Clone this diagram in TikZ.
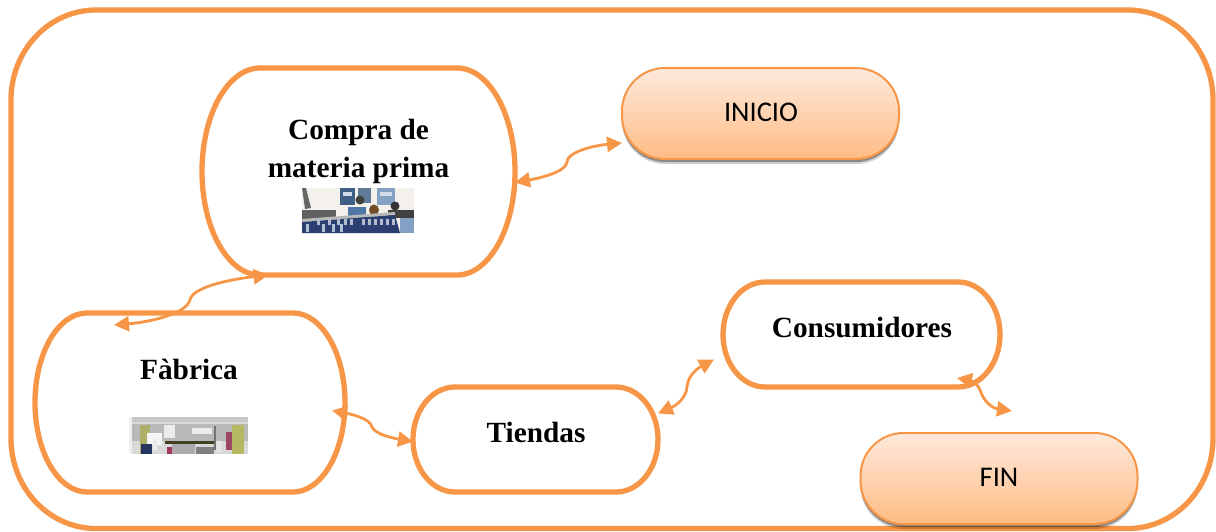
\documentclass[tikz,border=0pt]{standalone}
\usepackage{fontspec}
\setmainfont{Liberation Serif}
\newfontfamily\calibrifont{Carlito}
\usetikzlibrary{arrows.meta,shadows,calc}
\definecolor{acc}{HTML}{F79646}
\definecolor{ftop}{HTML}{FEE9DC}
\definecolor{fbot}{HTML}{FFBC84}
\definecolor{navy}{HTML}{2B3F70}
\definecolor{steel}{HTML}{4F78A8}
\definecolor{oliv}{HTML}{B4B860}
\definecolor{wall}{HTML}{F4F1EC}
\tikzset{
  x=1pt,y=-1pt,
  anchorbox/.style={rectangle,inner sep=0pt,outer sep=0pt},
  boxline/.style={draw=acc,line width=5.3pt,fill=white},
  pill/.style={draw=acc,line width=2pt,rectangle,inner sep=0pt,outer sep=0pt,top color=ftop,bottom color=fbot,
    minimum width=277pt,minimum height=91pt,rounded corners=43pt,
    drop shadow={shadow xshift=0pt,shadow yshift=-5pt,opacity=.18,fill=black},
    drop shadow={shadow xshift=0pt,shadow yshift=-3pt,opacity=.35,fill=black}},
  lab/.style={inner sep=0pt,align=center,font=\bfseries\fontsize{29.3}{38}\selectfont},
  pilllab/.style={inner sep=0pt,font=\calibrifont\fontsize{28.5}{32}\selectfont},
  link/.style={draw=acc,line width=2.8pt,{Triangle[length=15pt,width=15pt]}-{Triangle[length=15pt,width=15pt]}},
}
% rounded box with elliptical corners round a named node: name, x radius, y radius
\newcommand{\elbox}[3]{%
  \path[boxline] ($(#1.north west)+(#2,0)$) -- ($(#1.north east)+(-#2,0)$)
    arc[start angle=90,end angle=0,x radius=#2pt,y radius=#3pt]
    -- ($(#1.south east)+(0,-#3)$)
    arc[start angle=0,end angle=-90,x radius=#2pt,y radius=#3pt]
    -- ($(#1.south west)+(#2,0)$)
    arc[start angle=-90,end angle=-180,x radius=#2pt,y radius=#3pt]
    -- ($(#1.north west)+(0,#3)$)
    arc[start angle=180,end angle=90,x radius=#2pt,y radius=#3pt]
    -- cycle;}
\begin{document}
\begin{tikzpicture}
\useasboundingbox (0,0) rectangle (1216,531);
\fill[white] (0,0) rectangle (1216,531);
% node frames
\node[anchorbox,minimum width=1202pt,minimum height=518.5pt] (outer) at (612,269.25) {};
\node[anchorbox,minimum width=313pt,minimum height=207pt] (compra) at (358.5,171.5) {};
\node[anchorbox,minimum width=310pt,minimum height=179pt] (fabrica) at (190,402.5) {};
\node[anchorbox,minimum width=245pt,minimum height=105pt] (tiendas) at (535.5,439.5) {};
\node[anchorbox,minimum width=277pt,minimum height=105pt] (consum) at (861.5,334.5) {};
\elbox{outer}{85}{90}
\elbox{compra}{58}{103.5}
\elbox{fabrica}{52}{89.5}
\elbox{tiendas}{42}{52.5}
\elbox{consum}{42}{52.5}
\node[pill] (inicio) at (760.5,113.5) {};
\node[pill] (fin) at (999,478.5) {};
% labels
\node[lab] (tcompra) at (358.5,151) {Compra de\\materia prima};
\node[lab] (tfabrica) at (189,369) {Fàbrica};
\node[lab] (ttiendas) at (536,432) {Tiendas};
\node[lab] (tconsum) at (862,328) {Consumidores};
\node[pilllab] (tinicio) at (761,112) {INICIO};
\node[pilllab] (tfin) at (999,477) {FIN};
% photo in Compra
\begin{scope}
\clip (302,188) rectangle (414,233);
\fill[wall] (302,188) rectangle (414,233);
\fill[black!60] (302,188) -- (306,188) -- (311,208) -- (305,209) -- cycle;
\fill[steel!80!black] (340,188) rectangle (355,205);
\fill[steel!65!gray] (358,188) rectangle (371,203);
\fill[steel!70!white] (377,188) rectangle (395,205);
\fill[white!75!steel] (343,192) rectangle (352,196);
\fill[white!75!steel] (380,192) rectangle (392,196);
\fill[gray!75!black] (302,210) rectangle (336,219);
\fill[steel] (348,207) rectangle (366,219);
\fill[black!75] (360,200) circle (4.5pt);
\fill[brown!60!black] (374,210) ellipse (5pt and 5.5pt);
\fill[black!80] (395,206) circle (4.5pt);
\fill[black!75] (388,210) rectangle (414,218);
\fill[steel!70!white] (400,218) rectangle (414,233);
\fill[gray!55] (302,219) -- (395,212) -- (395,215) -- (302,222) -- cycle;
\fill[navy] (302,222) -- (395,215) -- (400,233) -- (302,233) -- cycle;
\foreach \q in {317,328,337,344,350,362,368,374,380,386,392}
  \fill[white!65!navy] (\q,219) rectangle ++(2.5,5.5);
\foreach \q in {306,322,332,340}
  \fill[white!55!steel] (\q,224) rectangle ++(3,8);
\end{scope}
% photo in Fabrica
\begin{scope}
\clip (129,417) rectangle (248,454);
\fill[gray!30] (129,417) rectangle (248,454);
\fill[gray!45] (129,417) rectangle (248,422);
\fill[gray!55] (132,424) rectangle (248,441);
\fill[oliv!85!gray] (140,425) rectangle (150,454);
\fill[oliv] (232,425) rectangle (244,454);
\fill[white!92!gray] (147,433) rectangle (162,445);
\fill[gray!12] (129,417) rectangle (132,454);
\fill[white!85!gray] (164,425) rectangle (175,438);
\fill[white!85!gray] (192,428) rectangle (212,434);
\fill[black!65!oliv] (165,441) rectangle (215,444);
\fill[gray!65!white] (172,444) rectangle (195,454);
\fill[navy!85!black] (141,444) rectangle (152,454);
\fill[white!85!gray] (153,438) rectangle (157,450);
\fill[purple!55!gray] (167,447) rectangle (172,454);
\fill[purple!45!gray] (226,432) rectangle (232,450);
\fill[white!80!gray] (216,441) rectangle (222,452);
\fill[black!55] (214,426) rectangle (216,450);
\fill[black!50] (196,447) rectangle (214,454);
\end{scope}
% connectors
\draw[link] (compra.-4) .. controls (540,178) and (566,172) .. (567,162)
  .. controls (567,153) and (590,146) .. (inicio.192);
\coordinate (fabin) at ($(fabrica.north west)+(79,12)$);
\draw[link] (compra.229) .. controls (225,280) and (192,288) .. (190,300)
  .. controls (186,314) and (150,322) .. (fabin);
\coordinate (fabout) at ($(fabrica.east)+(-13,8)$);
\draw[link] (fabout) .. controls (350,414) and (370,418) .. (372,427)
  .. controls (375,434) and (392,438) .. (tiendas.181);
\coordinate (conin) at ($(consum.west)+(-9,25)$);
\draw[link] (tiendas.12) .. controls (675,406) and (686,399) .. (687,387)
  .. controls (688,375) and (698,368) .. (conin);
\coordinate (conout) at ($(consum.south east)+(-43,-9)$);
\coordinate (finin) at ($(fin.north)+(13,-22)$);
\draw[link] (conout) .. controls (968,380) and (977,382) .. (980,390)
  .. controls (984,402) and (992,408) .. (finin);
\end{tikzpicture}
\end{document}
